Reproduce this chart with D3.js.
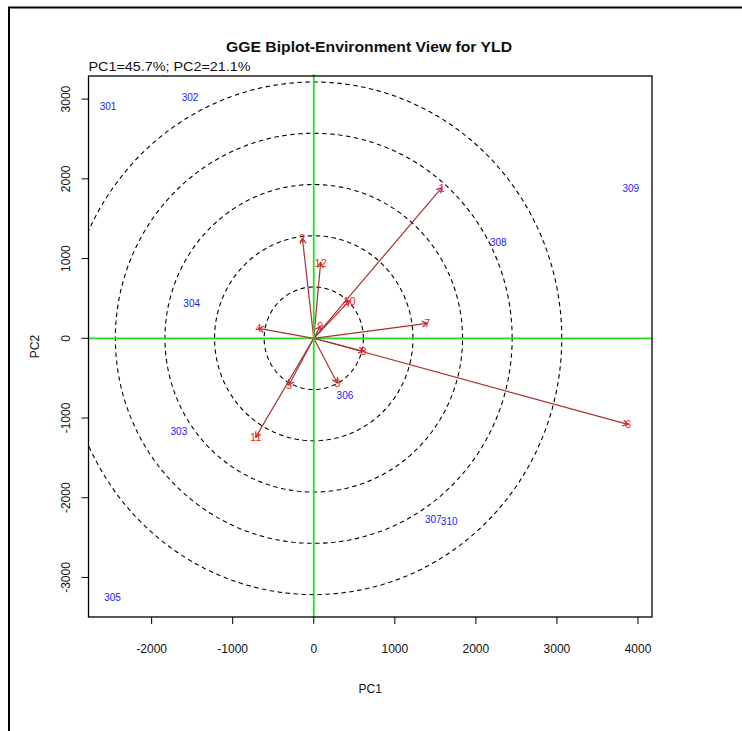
<!DOCTYPE html>
<html>
<head>
<meta charset="utf-8">
<script src="https://cdn.jsdelivr.net/npm/d3@7/dist/d3.min.js"></script>
<style>
  html, body { margin: 0; padding: 0; background: #fff; }
  svg { display: block; font-family: "Liberation Sans", Arial, sans-serif; }
</style>
</head>
<body>
<svg id="chart" width="742" height="731"></svg>
<script>
// Environment vectors (PC1, PC2 scores)
const envNames = ["1", "2", "3", "4", "5", "6", "7", "8", "9", "10", "11", "12"];
const envPC1 = [1580, -140, 290, -680, -305, 3877, 1400, 615, 80, 440, -715, 85];
const envPC2 = [1890, 1255, -560, 125, -585, -1080, 187, -165, 150, 470, -1240, 950];

// Genotype scores
const genoNames = ["301", "302", "303", "304", "305", "306", "307", "308", "309", "310"];
const genoPC1 = [-2538, -1526, -1664, -1506, -2482, 385, 1474, 2276, 3911, 1671];
const genoPC2 = [2910, 3015, -1167, 442, -3256, -716, -2272, 1202, 1875, -2302];

// Concentric reference rings (half-axes along PC1 and PC2)
const ringPC1 = [612, 1224, 1836, 2448, 3060];
const ringPC2 = [643, 1286, 1929, 2572, 3215];

// Axis ticks
const xTicks = [-2000, -1000, 0, 1000, 2000, 3000, 4000];
const yTicks = [-3000, -2000, -1000, 0, 1000, 2000, 3000];

const titleText = "GGE Biplot-Environment View for YLD";
const subtitleText = "PC1=45.7%; PC2=21.1%";

const svg = d3.select("#chart");
const plot = { left: 88.5, right: 652, top: 76, bottom: 617 };

const x = d3.scaleLinear().domain([-2779, 4173]).range([plot.left, plot.right]);
const y = d3.scaleLinear().domain([-3496, 3290]).range([plot.bottom, plot.top]);

// Outer figure border
svg.append("path")
  .attr("d", "M9,731 V7.5 H742")
  .attr("fill", "none")
  .attr("stroke", "#000")
  .attr("stroke-width", 2);

// Clip region for the plotting area
svg.append("clipPath").attr("id", "plotClip")
  .append("rect")
  .attr("x", plot.left).attr("y", plot.top)
  .attr("width", plot.right - plot.left).attr("height", plot.bottom - plot.top);

const inner = svg.append("g").attr("clip-path", "url(#plotClip)");

// Dashed rings around the origin
const angles = d3.range(0, 361, 2).map(d => d * Math.PI / 180);
const ringLine = d3.line().x(d => d[0]).y(d => d[1]);
ringPC1.forEach((r1, i) => {
  const r2 = ringPC2[i];
  const pts = angles.map(t => [x(r1 * Math.cos(t)), y(r2 * Math.sin(t))]);
  inner.append("path")
    .attr("d", ringLine(pts))
    .attr("fill", "none")
    .attr("stroke", "#000")
    .attr("stroke-width", 1.1)
    .attr("stroke-dasharray", "4.5,3.5");
});

// Green axes through the origin
svg.append("line")
  .attr("x1", x(0)).attr("x2", x(0))
  .attr("y1", plot.top - 2).attr("y2", plot.bottom)
  .attr("stroke", "#22e022").attr("stroke-width", 1.8);
inner.append("line")
  .attr("x1", plot.left).attr("x2", plot.right)
  .attr("y1", y(0)).attr("y2", y(0))
  .attr("stroke", "#22e022").attr("stroke-width", 1.8);

// Environment vectors with open arrowheads
const arrowColor = "#a83232";
const ox = x(0), oy = y(0);
const envG = inner.append("g");
envNames.forEach((name, i) => {
  const tx = x(envPC1[i]), ty = y(envPC2[i]);
  envG.append("line")
    .attr("x1", ox).attr("y1", oy).attr("x2", tx).attr("y2", ty)
    .attr("stroke", arrowColor).attr("stroke-width", 1.2);
  const ang = Math.atan2(ty - oy, tx - ox);
  const hl = 6, ha = Math.PI / 6;
  const p1 = [tx - hl * Math.cos(ang - ha), ty - hl * Math.sin(ang - ha)];
  const p2 = [tx - hl * Math.cos(ang + ha), ty - hl * Math.sin(ang + ha)];
  envG.append("path")
    .attr("d", `M${p1[0]},${p1[1]} L${tx},${ty} L${p2[0]},${p2[1]}`)
    .attr("fill", "none").attr("stroke", arrowColor).attr("stroke-width", 1.2);
  envG.append("text")
    .attr("x", tx).attr("y", ty)
    .attr("text-anchor", "middle").attr("dominant-baseline", "central")
    .attr("font-size", 11).attr("fill", "#ff2020")
    .text(name);
});

// Genotype labels
const genoG = inner.append("g");
genoNames.forEach((name, i) => {
  genoG.append("text")
    .attr("x", x(genoPC1[i])).attr("y", y(genoPC2[i]))
    .attr("text-anchor", "middle").attr("dominant-baseline", "central")
    .attr("font-size", 10).attr("fill", "#1a1aff")
    .text(name);
});

// Plot frame
svg.append("rect")
  .attr("x", plot.left).attr("y", plot.top)
  .attr("width", plot.right - plot.left).attr("height", plot.bottom - plot.top)
  .attr("fill", "none").attr("stroke", "#000").attr("stroke-width", 1.3);

// Bottom axis
const xAxis = svg.append("g");
xTicks.forEach(v => {
  xAxis.append("line")
    .attr("x1", x(v)).attr("x2", x(v))
    .attr("y1", plot.bottom).attr("y2", plot.bottom + 7)
    .attr("stroke", "#000").attr("stroke-width", 1);
  xAxis.append("text")
    .attr("x", x(v)).attr("y", 649)
    .attr("text-anchor", "middle").attr("dominant-baseline", "central")
    .attr("font-size", 12).attr("fill", "#111")
    .text(v);
});

// Left axis
const yAxis = svg.append("g");
yTicks.forEach(v => {
  yAxis.append("line")
    .attr("x1", plot.left - 7).attr("x2", plot.left)
    .attr("y1", y(v)).attr("y2", y(v))
    .attr("stroke", "#000").attr("stroke-width", 1);
  yAxis.append("text")
    .attr("transform", `translate(66,${y(v)}) rotate(-90)`)
    .attr("text-anchor", "middle").attr("dominant-baseline", "central")
    .attr("font-size", 12).attr("fill", "#111")
    .text(v);
});

// Axis titles
svg.append("text")
  .attr("x", (plot.left + plot.right) / 2).attr("y", 689)
  .attr("text-anchor", "middle").attr("dominant-baseline", "central")
  .attr("font-size", 12).attr("fill", "#111")
  .text("PC1");
svg.append("text")
  .attr("transform", `translate(35,${(plot.top + plot.bottom) / 2}) rotate(-90)`)
  .attr("text-anchor", "middle").attr("dominant-baseline", "central")
  .attr("font-size", 12).attr("fill", "#111")
  .text("PC2");

// Title and variance subtitle
svg.append("text")
  .attr("x", 369).attr("y", 47)
  .attr("text-anchor", "middle").attr("dominant-baseline", "central")
  .attr("font-size", 14.5).attr("font-weight", "bold").attr("fill", "#111")
  .attr("textLength", 286).attr("lengthAdjust", "spacingAndGlyphs")
  .text(titleText);
svg.append("text")
  .attr("x", plot.left).attr("y", 67)
  .attr("text-anchor", "start").attr("dominant-baseline", "central")
  .attr("font-size", 12).attr("fill", "#111")
  .attr("textLength", 162).attr("lengthAdjust", "spacingAndGlyphs")
  .text(subtitleText);
</script>
</body>
</html>
